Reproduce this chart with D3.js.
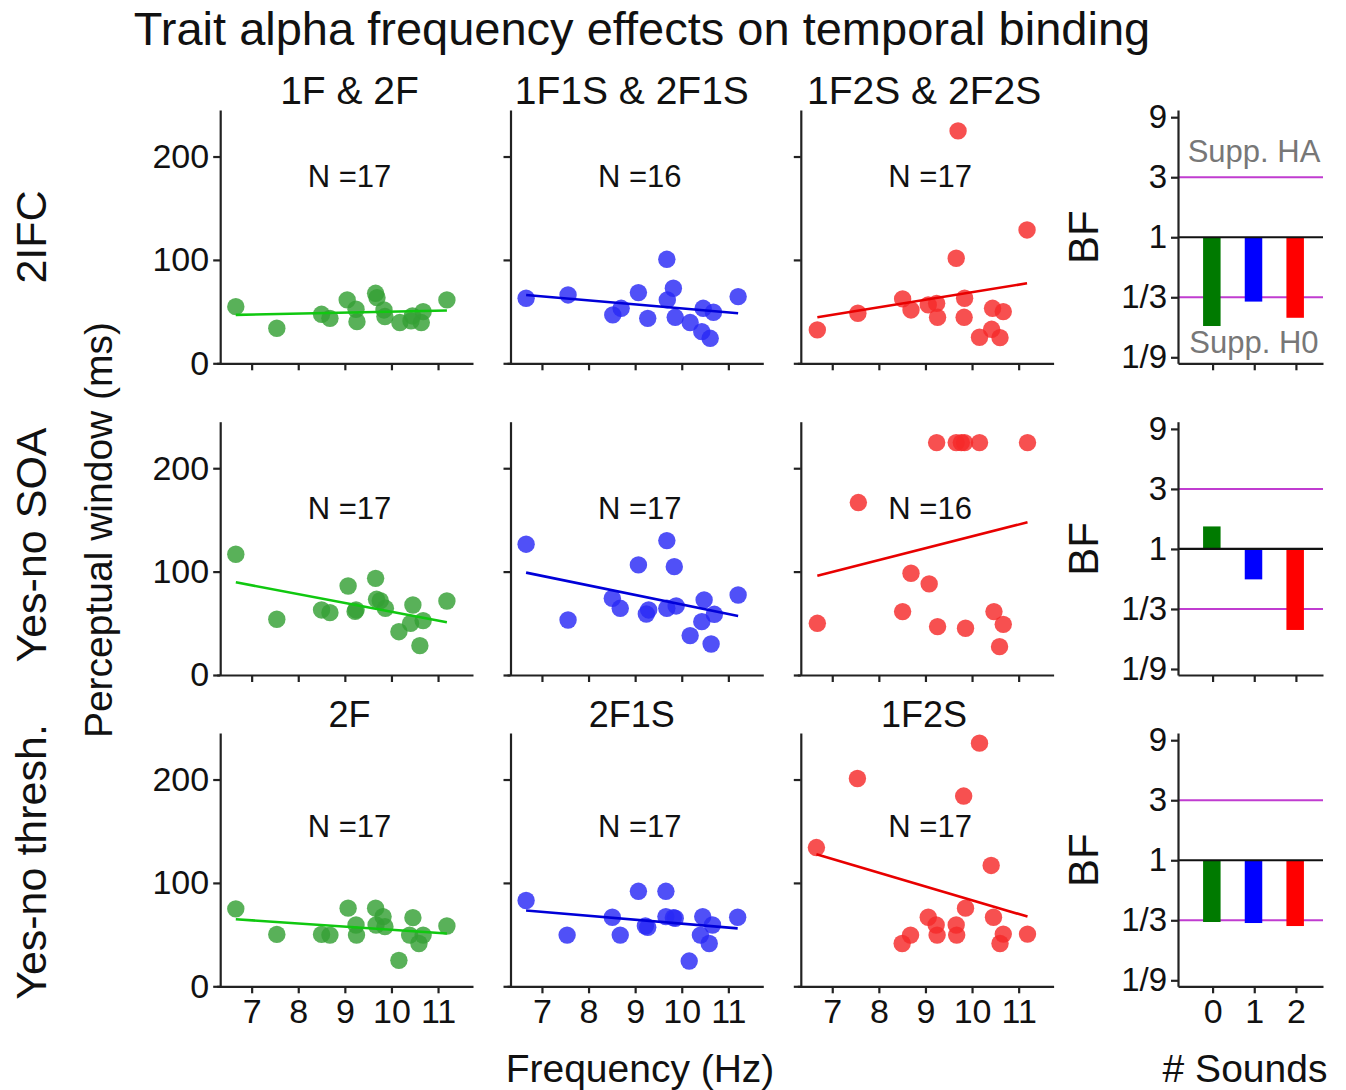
<!DOCTYPE html>
<html><head><meta charset="utf-8">
<script src="https://cdn.jsdelivr.net/npm/d3@7"></script>
<style>body{margin:0;background:#fff}text{font-family:"Liberation Sans",Arial,sans-serif}</style>
</head><body>
<svg id="c" width="1346" height="1090"></svg>
<script>
// ---------- data ----------
const chartTitle = "Trait alpha frequency effects on temporal binding";
const topTitles = ["1F & 2F", "1F1S & 2F1S", "1F2S & 2F2S"];
const bottomTitles = ["2F", "2F1S", "1F2S"];
const rowLabels = ["2IFC", "Yes-no SOA", "Yes-no thresh."];
const nCounts = [[17, 16, 17], [17, 17, 16], [17, 17, 17]];
const xTicks = [7, 8, 9, 10, 11];
const yTicks = [0, 100, 200];
const bfTicks = [9, 3, 1, 1/3, 1/9];
const bfTickLabels = ["9", "3", "1", "1/3", "1/9"];
const soundCats = [0, 1, 2];

// scatter points: [frequency (Hz), perceptual window (ms)]
const ifc_F = [[6.66,54.8],[7.54,33.9],[8.50,47.4],[8.68,43.5],[9.05,61.3],[9.24,52.3],[9.26,40.3],[9.66,67.7],[9.69,63.5],[9.84,51.6],[9.86,45.2],[10.18,39.4],[10.45,45.8],[10.64,39.4],[10.68,50.0],[10.42,41.0],[11.19,61.3]];
const ifc_F1S = [[6.66,62.9],[7.56,66.1],[8.52,46.8],[8.70,53.2],[9.07,68.4],[9.27,43.5],[9.68,100.6],[9.82,72.6],[9.69,61.3],[9.86,44.5],[10.18,39.4],[10.46,53.2],[10.43,30.6],[10.61,24.2],[10.68,49.4],[11.21,64.5]];
const ifc_F2S = [[6.68,32.3],[7.55,48.4],[8.51,62.3],[8.69,51.6],[9.06,56.5],[9.24,58.0],[9.26,44.5],[9.70,224.8],[9.66,101.6],[9.84,62.9],[9.83,44.5],[10.16,25.2],[10.44,53.2],[10.42,32.9],[10.67,50.0],[10.60,24.8],[11.18,129.0]];
const soa_F = [[6.66,116.8],[7.54,53.9],[8.50,62.9],[8.68,60.3],[9.07,86.1],[9.24,62.9],[9.22,61.5],[9.66,93.5],[9.68,73.2],[9.76,71.9],[9.87,64.5],[10.16,41.9],[10.46,67.7],[10.41,50.0],[10.68,52.6],[10.61,28.4],[11.19,71.6]];
const soa_F1S = [[6.66,126.5],[7.56,53.2],[8.51,74.2],[8.68,64.5],[9.07,106.5],[9.24,59.0],[9.29,62.9],[9.68,130.0],[9.84,104.8],[9.68,64.5],[9.88,66.8],[10.18,38.1],[10.48,72.6],[10.43,51.6],[10.63,30.0],[10.70,58.7],[11.21,77.4]];
const soa_F2S = [[6.68,50.0],[7.56,166.8],[8.51,61.3],[8.69,98.4],[9.08,88.1],[9.24,224.8],[9.26,46.8],[9.66,224.8],[9.77,224.8],[9.84,224.8],[9.86,45.2],[10.16,224.8],[10.47,61.3],[10.67,49.0],[10.59,27.4],[11.19,224.8]];
const thr_F = [[6.66,74.9],[7.54,50.2],[8.50,50.2],[8.68,49.5],[9.07,75.6],[9.24,59.3],[9.25,49.5],[9.66,75.6],[9.82,67.4],[9.67,59.3],[9.86,57.7],[10.16,25.1],[10.46,66.4],[10.39,49.5],[10.68,49.5],[10.59,41.4],[11.19,58.3]];
const thr_F1S = [[6.66,83.0],[7.54,49.5],[8.51,66.8],[8.68,49.5],[9.07,91.9],[9.22,58.3],[9.27,57.0],[9.66,91.9],[9.66,67.4],[9.82,66.4],[9.86,65.8],[10.16,24.4],[10.45,67.4],[10.40,49.5],[10.66,59.3],[10.59,41.4],[11.20,66.8]];
const thr_F2S = [[6.66,134.2],[7.54,201.0],[8.50,41.4],[8.68,49.5],[9.06,66.8],[9.23,59.3],[9.25,49.5],[9.82,184.0],[10.16,235.2],[9.66,59.3],[9.67,49.5],[9.86,75.6],[10.41,116.9],[10.46,66.8],[10.67,50.5],[10.60,41.4],[11.19,50.5]];
// regression line: fitted value at lowest and highest frequency
const fit_ifc = [[46.8, 51.0], [66.1, 48.4], [44.5, 77.4]];
const fit_soa = [[89.7, 51.0], [99.0, 57.1], [96.1, 147.7]];
const fit_thr = [[64.8, 51.1], [73.3, 56.0], [127.7, 67.4]];
// Bayes factors per number of sounds
const bf_ifc = [0.197, 0.308, 0.229];
const bf_soa = [1.51, 0.573, 0.227];
const bf_thr = [0.323, 0.317, 0.300];

// ---------- layout ----------
const svg = d3.select("#c");
const scatterData = [[ifc_F, ifc_F1S, ifc_F2S], [soa_F, soa_F1S, soa_F2S], [thr_F, thr_F1S, thr_F2S]];
const fits = [fit_ifc, fit_soa, fit_thr];
const bfs = [bf_ifc, bf_soa, bf_thr];
const colLeft = [216.7, 507.0, 797.3];
const rowBottom = [363.3, 675.0, 986.3];
const nLabelY = [181, 162, 155];
const titleShift = [0, -8, -6];
const panelH = 253.3;
const fillCol = ["#34a034", "#2a2af5", "#f52a2a"];
const lineCol = ["#10c810", "#0000d8", "#e80000"];
const barCol = ["#007a00", "#0000ff", "#ff0000"];
const FONT = 34;

function styleAxis(g, fs) {
  g.selectAll("path,line").attr("stroke", "#222").attr("stroke-width", 2.2);
  g.selectAll("text").attr("fill", "#111").style("font-size", (fs || FONT) + "px").style("font-family", '"Liberation Sans",Arial,sans-serif');
}

svg.append("text").attr("x", 642).attr("y", 45).attr("text-anchor", "middle")
  .style("font-size", "47px").attr("fill", "#111").text(chartTitle);

for (let r = 0; r < 3; r++) {
  const yb = rowBottom[r];
  const y = d3.scaleLinear().domain([0, 245]).range([yb, yb - panelH]);
  for (let c = 0; c < 3; c++) {
    const x = d3.scaleLinear().domain([6.25, 11.75]).range([colLeft[c], colLeft[c] + 256.3]);
    const axX = colLeft[c] + 3.5;
    const g = svg.append("g");
    const ya = g.append("g").attr("transform", `translate(${axX},0)`)
      .call(d3.axisLeft(y).tickValues(yTicks).tickSize(7).tickSizeOuter(0).tickPadding(4)
        .tickFormat(c === 0 ? d3.format("d") : () => ""));
    styleAxis(ya);
    const xa = g.append("g").attr("transform", `translate(0,${yb})`)
      .call(d3.axisBottom(x).tickValues(xTicks).tickSize(7).tickSizeOuter(0).tickPadding(6)
        .tickFormat(r === 2 ? d3.format("d") : () => ""));
    styleAxis(xa);
    const pts = scatterData[r][c];
    g.append("g").selectAll("circle").data(pts).join("circle")
      .attr("cx", d => x(d[0])).attr("cy", d => y(d[1])).attr("r", 8.7)
      .attr("fill", fillCol[c]).attr("fill-opacity", 0.82);
    const xs = d3.extent(pts, d => d[0]);
    const f = fits[r][c];
    g.append("line").attr("x1", x(xs[0])).attr("x2", x(xs[1]))
      .attr("y1", y(f[0])).attr("y2", y(f[1]))
      .attr("stroke", lineCol[c]).attr("stroke-width", 2.6);
    g.append("text").attr("x", x(9.1)).attr("y", y(nLabelY[r]) + 11).attr("text-anchor", "middle")
      .style("font-size", "31px").attr("fill", "#111").text("N =" + nCounts[r][c]);
    if (r === 0 || r === 2) {
      const t = r === 0 ? topTitles[c] : bottomTitles[c];
      g.append("text").attr("x", x(9.1) + titleShift[c]).attr("y", yb - panelH - 6).attr("text-anchor", "middle")
        .style("font-size", r === 0 ? "39px" : "36px").attr("fill", "#111").text(t);
    }
  }
  svg.append("text").attr("transform", `translate(46,${[237, 545, 862][r]}) rotate(-90)`)
    .attr("text-anchor", "middle").style("font-size", "43px").attr("fill", "#111").text(rowLabels[r]);

  // BF bar panel
  const by = d3.scaleLog().base(3).domain([Math.pow(3, -2.1), Math.pow(3, 2.12)]).range([yb, yb - panelH]);
  const bx = d3.scaleLinear().domain([-0.83, 2.65]).range([1178, 1323]);
  const bg = svg.append("g");
  [3, 1/3].forEach(v => bg.append("line").attr("x1", 1178).attr("x2", 1323)
    .attr("y1", by(v)).attr("y2", by(v)).attr("stroke", "#c03cd0").attr("stroke-width", 2));
  bg.append("g").selectAll("rect").data(bfs[r]).join("rect")
    .attr("x", (d, i) => bx(soundCats[i]) - 9.5).attr("width", 17.5)
    .attr("y", d => Math.min(by(d), by(1))).attr("height", d => Math.abs(by(d) - by(1)))
    .attr("fill", (d, i) => barCol[i]);
  bg.append("line").attr("x1", 1178).attr("x2", 1323).attr("y1", by(1)).attr("y2", by(1))
    .attr("stroke", "#111").attr("stroke-width", 2.2);
  const bya = bg.append("g").attr("transform", "translate(1178,0)")
    .call(d3.axisLeft(by).tickValues(bfTicks).tickSize(7).tickSizeOuter(0).tickPadding(4)
      .tickFormat((d, i) => bfTickLabels[i]));
  styleAxis(bya, 33);
  const bxa = bg.append("g").attr("transform", `translate(0,${yb})`)
    .call(d3.axisBottom(bx).tickValues(soundCats).tickSize(7).tickSizeOuter(0).tickPadding(6)
      .tickFormat(r === 2 ? d3.format("d") : () => ""));
  styleAxis(bxa);
  bg.append("text").attr("transform", `translate(1098,${by(1)}) rotate(-90)`)
    .attr("text-anchor", "middle").style("font-size", "42px").attr("fill", "#111").text("BF");
  if (r === 0) {
    bg.append("text").attr("x", 1254).attr("y", by(3) - 15).attr("text-anchor", "middle")
      .style("font-size", "31px").attr("fill", "#777").text("Supp. HA");
    bg.append("text").attr("x", 1254).attr("y", by(1/9) - 4).attr("text-anchor", "middle")
      .style("font-size", "31px").attr("fill", "#777").text("Supp. H0");
  }
}

svg.append("text").attr("transform", "translate(112,530) rotate(-90)").attr("text-anchor", "middle")
  .style("font-size", "39px").attr("fill", "#111").text("Perceptual window (ms)");
svg.append("text").attr("x", 640).attr("y", 1082).attr("text-anchor", "middle")
  .style("font-size", "39px").attr("fill", "#111").text("Frequency (Hz)");
svg.append("text").attr("x", 1245).attr("y", 1082).attr("text-anchor", "middle")
  .style("font-size", "39px").attr("fill", "#111").text("# Sounds");
</script>
</body></html>
